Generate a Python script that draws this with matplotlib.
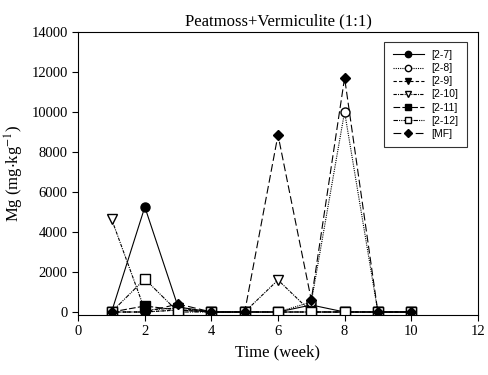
import matplotlib.pyplot as plt
import numpy as np

weeks = [1, 2, 3, 4, 5, 6, 7, 8, 9, 10]
s27 = [0, 5250, 250, 0, 0, 0, 350, 0, 0, 0]
s28 = [0, 0, 100, 0, 0, 0, 500, 10000, 0, 0]
s29 = [0, 0, 100, 0, 0, 0, 0, 0, 0, 0]
s210 = [4650, 100, 200, 0, 0, 1600, 0, 0, 0, 0]
s211 = [0, 300, 100, 0, 0, 0, 0, 0, 0, 0]
s212 = [0, 1650, 0, 0, 0, 0, 0, 0, 0, 0]
mf = [0, 0, 400, 0, 0, 8850, 600, 11700, 0, 0]

labels = ["[2-7]", "[2-8]", "[2-9]", "[2-10]", "[2-11]", "[2-12]", "[MF]"]

plt.rcParams['font.family'] = ['Liberation Serif', 'DejaVu Serif']
plt.rcParams['mathtext.fontset'] = 'stix'

fig = plt.figure(figsize=(4.89, 3.75), dpi=100)
ax = fig.add_axes([0.16, 0.16, 0.817, 0.755])

kw = dict(color='black', linewidth=0.8, markersize=6.5)
ax.plot(weeks, s27, marker='o', linestyle='-', markerfacecolor='black', label=labels[0], **kw)
ax.plot(weeks, s28, marker='o', linestyle=(0, (1, 1)), markerfacecolor='white', label=labels[1], **kw)
ax.plot(weeks, s29, marker='v', linestyle=(0, (3, 2)), markerfacecolor='black', label=labels[2], **kw)
ax.plot(weeks, s210, marker='v', linestyle=(0, (3, 1, 1, 1)), markerfacecolor='white', label=labels[3], **kw)
ax.plot(weeks, s211, marker='s', linestyle=(0, (6, 2)), markerfacecolor='black', label=labels[4], **kw)
ax.plot(weeks, s212, marker='s', linestyle=(0, (4, 1, 1, 1, 1, 1)), markerfacecolor='white', label=labels[5], **kw)
ax.plot(weeks, mf, marker='D', linestyle=(0, (7, 3)), markerfacecolor='black', markersize=5.5, color='black', linewidth=0.8, label=labels[6])

ax.set_xlim(0, 12)
ax.set_ylim(-150, 14000)
ax.set_xticks([0, 2, 4, 6, 8, 10, 12])
ax.set_yticks(np.arange(0, 14001, 2000))
ax.tick_params(direction='out', length=4, width=0.8, labelsize=10.5, top=False, right=False)
for sp in ax.spines.values():
    sp.set_linewidth(0.8)

ax.set_title("Peatmoss+Vermiculite (1:1)", fontsize=12, pad=5)
ax.set_xlabel("Time (week)", fontsize=12)
ax.set_ylabel("Mg (mg$\\cdot$kg$^{-1}$)", fontsize=12)

leg = ax.legend(loc='upper right', bbox_to_anchor=(0.9725, 0.965), frameon=True, fancybox=False,
                edgecolor='black', prop={'family': 'Liberation Sans', 'size': 7.5},
                handlelength=3.0, labelspacing=0.3, borderpad=0.8, handletextpad=0.7,
                borderaxespad=0, markerscale=0.7)
leg.get_frame().set_linewidth(0.8)

fig.savefig("out.png", dpi=100)
